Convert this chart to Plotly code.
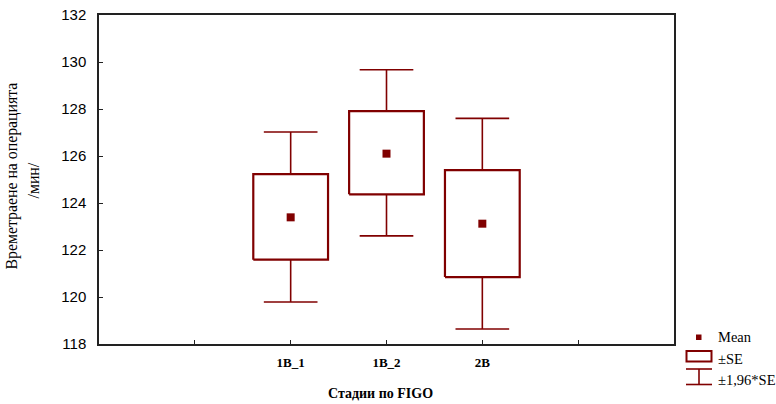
import plotly.graph_objects as go

# ---- data ----
categories = ["1B_1", "1B_2", "2B"]
cat_pos = [1, 2, 3]
means = [123.39, 126.10, 123.12]
se_low = [121.59, 124.37, 120.85]
se_high = [125.23, 127.91, 125.40]
ci_low = [119.79, 122.60, 118.64]
ci_high = [127.02, 129.67, 127.60]

tick_vals = [0, 1, 2, 3, 4]
tick_text = ["", "1B_1", "1B_2", "2B", ""]
y_ticks = [118, 120, 122, 124, 126, 128, 130, 132]

COL = "#800000"
BOX_HW = 0.39
CAP_HW = 0.28

fig = go.Figure()

for i, xc in enumerate(cat_pos):
    # whiskers (±1.96*SE)
    fig.add_trace(go.Scatter(
        x=[xc, xc, None, xc - CAP_HW, xc + CAP_HW, None,
           xc, xc, None, xc - CAP_HW, xc + CAP_HW],
        y=[se_high[i], ci_high[i], None, ci_high[i], ci_high[i], None,
           se_low[i], ci_low[i], None, ci_low[i], ci_low[i]],
        mode="lines", line=dict(color=COL, width=1.6),
        showlegend=False, hoverinfo="skip"))
    # box (±SE)
    fig.add_trace(go.Scatter(
        x=[xc - BOX_HW, xc + BOX_HW, xc + BOX_HW, xc - BOX_HW, xc - BOX_HW],
        y=[se_low[i], se_low[i], se_high[i], se_high[i], se_low[i]],
        mode="lines", line=dict(color=COL, width=2.2),
        showlegend=False, hoverinfo="skip"))

# means
fig.add_trace(go.Scatter(
    x=cat_pos, y=means, mode="markers",
    marker=dict(symbol="square", size=8, color=COL),
    showlegend=False))

# ---- manual legend (paper coords) ----
L, R, T, B = 99, 674, 15, 344
def px(xp):
    return (xp - L) / (R - L)
def py(yp):
    return (B - yp) / (B - T)

shapes = []
# mean marker
shapes.append(dict(type="rect", xref="paper", yref="paper",
                   x0=px(696), x1=px(701.5), y0=py(334.5), y1=py(340),
                   fillcolor=COL, line=dict(width=0)))
# SE box
shapes.append(dict(type="rect", xref="paper", yref="paper",
                   x0=px(686.5), x1=px(711.5), y0=py(351), y1=py(361.5),
                   fillcolor="white", line=dict(color=COL, width=2)))
# whisker symbol
for (x0, y0, x1, y1) in [(686, 369, 712, 369), (699, 369, 699, 384.5),
                         (686, 384.5, 712, 384.5)]:
    shapes.append(dict(type="line", xref="paper", yref="paper",
                       x0=px(x0), x1=px(x1), y0=py(y0), y1=py(y1),
                       line=dict(color=COL, width=1.6)))

annotations = []
for txt, yy in [("Mean", 337), ("±SE", 358.5), ("±1,96*SE", 379.5)]:
    annotations.append(dict(text=txt, xref="paper", yref="paper",
                            x=px(716), y=py(yy), xanchor="left", yanchor="middle",
                            showarrow=False,
                            font=dict(family="Liberation Serif", size=14.5, color="black")))

# y-axis title (two lines)
for txt, xx, yy in [("Времетраене на операцията", 11, 176.5), ("/мин/", 33, 180.5)]:
    annotations.append(dict(text=txt,
                            xref="paper", yref="paper", x=px(xx), y=py(yy),
                            xanchor="center", yanchor="middle", textangle=-90,
                            showarrow=False,
                            font=dict(family="Liberation Serif", size=15.8, color="black")))
# x-axis title
annotations.append(dict(text="<b>Стадии по FIGO</b>",
                        xref="paper", yref="paper", x=px(380.5), y=py(393),
                        xanchor="center", yanchor="middle", showarrow=False,
                        font=dict(family="Liberation Serif", size=14, color="black")))

fig.update_layout(
    width=776, height=404,
    margin=dict(l=L, r=776 - R, t=T, b=404 - B, pad=0, autoexpand=False),
    paper_bgcolor="white", plot_bgcolor="white",
    shapes=shapes, annotations=annotations,
    showlegend=False,
    xaxis=dict(range=[-1, 5], tickvals=tick_vals, ticktext=tick_text,
               showgrid=False, zeroline=False, automargin=False,
               showline=True, mirror=True, linecolor="#222", linewidth=1.5,
               ticks="inside", ticklen=4, tickcolor="#222", tickwidth=1,
               tickfont=dict(family="Liberation Serif", size=13, color="black",
                             weight="bold"),
               ticklabelstandoff=6),
    yaxis=dict(range=[118, 132], tickvals=y_ticks,
               showgrid=False, zeroline=False, automargin=False,
               showline=True, mirror=True, linecolor="#222", linewidth=1.5,
               ticks="inside", ticklen=4, tickcolor="#222", tickwidth=1,
               tickfont=dict(family="Liberation Sans", size=15, color="black"),
               ticklabelstandoff=8),
)

fig.write_html("out.html", config={"displayModeBar": False},
               post_script="document.body.style.margin='0';document.body.style.padding='0';")
